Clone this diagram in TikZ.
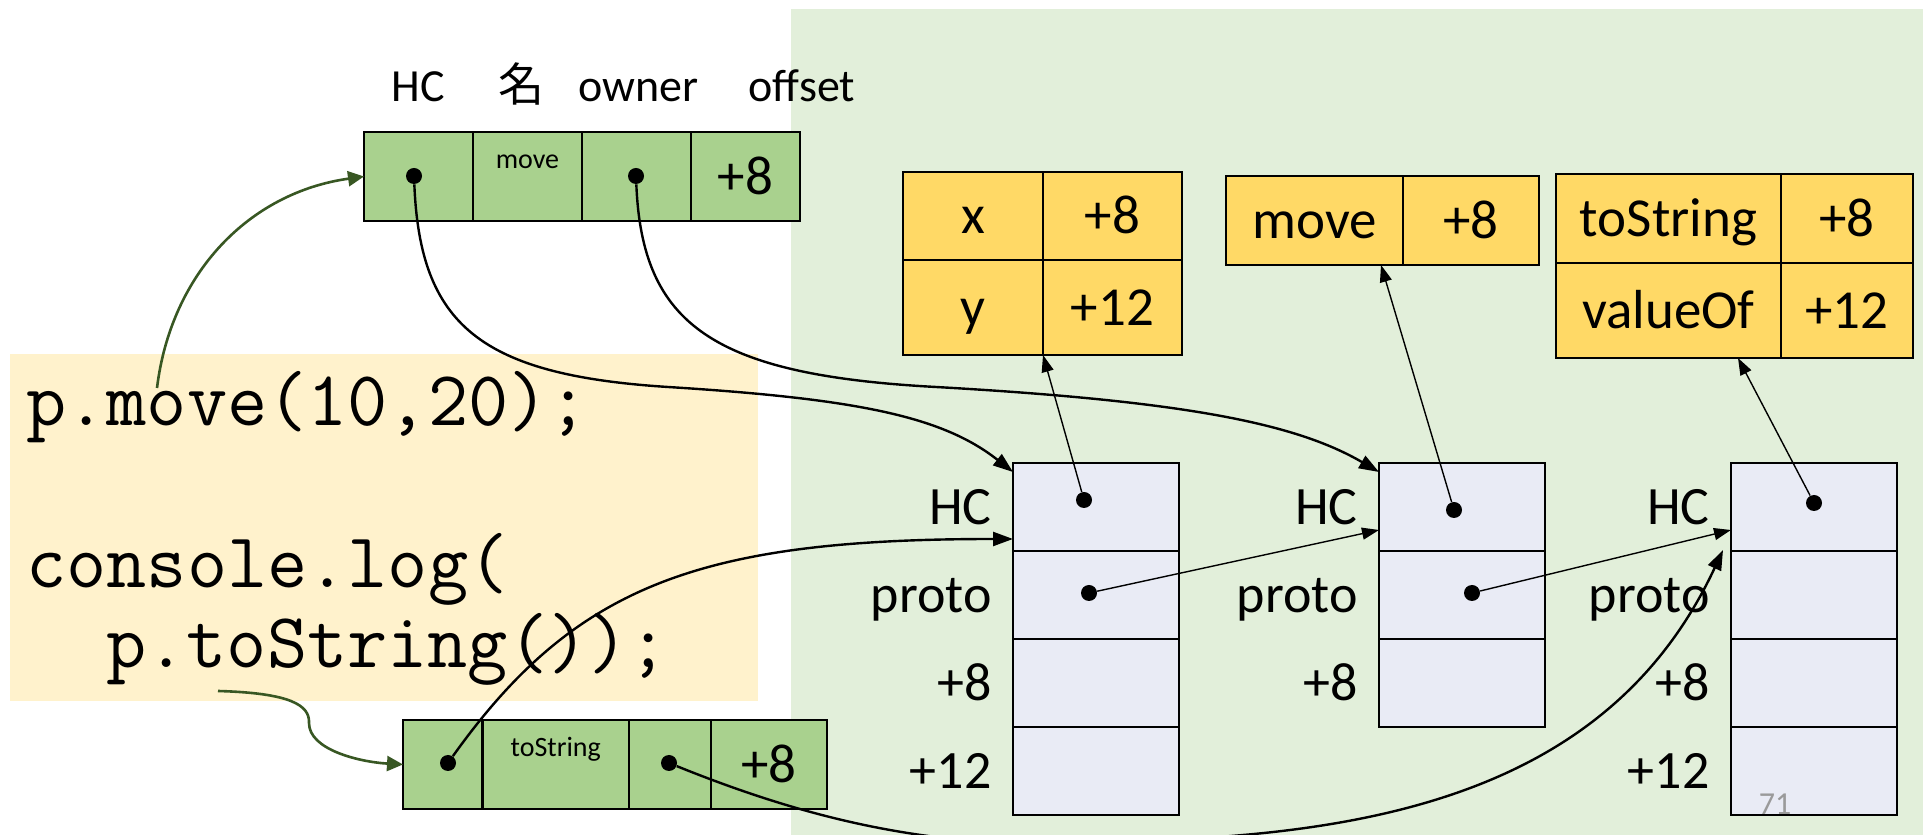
\documentclass[tikz,border=0pt]{standalone}
\usepackage{fontspec}
\setmainfont{Carlito}
\newfontfamily\cjkfont{Noto Sans CJK JP}
\usepackage{xcolor}
\usetikzlibrary{positioning, calc, arrows.meta}

\definecolor{heapbg}{HTML}{E2EFDA}
\definecolor{codebg}{HTML}{FFF2CC}
\definecolor{icgreen}{HTML}{A9D18E}
\definecolor{mapgold}{HTML}{FFD966}
\definecolor{objfill}{HTML}{E9EBF5}
\definecolor{callgreen}{HTML}{385723}
\definecolor{pagegray}{HTML}{9A9A9A}

\tikzset{
  cell/.style={draw, line width=1.4pt, inner sep=0pt, outer sep=0pt,
    minimum height=44.5pt, text height=17.6pt, text depth=0pt,
    font=\fontsize{27.5}{32}\selectfont},
  iccell/.style={cell, fill=icgreen},
  mapcell/.style={cell, fill=mapgold},
  objcell/.style={cell, fill=objfill, line width=1.2pt, minimum width=83pt, minimum height=44pt},
  fieldlbl/.style={inner sep=0pt, text height=17.2pt, text depth=0pt, font=\fontsize{27}{31}\selectfont},
  toplbl/.style={anchor=base, inner sep=0pt, font=\fontsize{23}{27}\selectfont},
  keylbl/.style={anchor=base, inner sep=0pt, font=\fontsize{14}{16}\selectfont},
  codeline/.style={anchor=base west, inner sep=0pt, font=\ttfamily\fontsize{39}{46}\selectfont},
  dot/.style={circle, fill=black, inner sep=0pt, minimum size=8pt},
  ptr/.style={line width=1.2pt, -{Triangle[length=10pt, width=7pt]}},
  thinptr/.style={line width=0.7pt, -{Triangle[length=8.5pt, width=6pt]}},
  callptr/.style={color=callgreen, line width=1.3pt, -{Triangle[length=8pt, width=7.5pt]}}
}

\begin{document}
\begin{tikzpicture}[x=0.5pt, y=0.5pt]
  \useasboundingbox (0,0) rectangle (1923,835);
  \clip (0,0) rectangle (1923,835);
  \fill[heapbg] (791,0) rectangle (1923,826);
  \fill[codebg] (10,134) rectangle (758,481);

  \node[codeline] (code1) at (26,409) {p.move(10,20);};
  \node[codeline] (code2) at (26,247) {console.log(};
  \node[codeline] (code3) at (106,167) {p.toString());};

  \node[iccell, minimum width=54.5pt, anchor=north west] (ichc) at (364,703) {};
  \node[iccell, minimum width=54.5pt, right=0pt of ichc] (icname) {};
  \node[iccell, minimum width=54.5pt, right=0pt of icname] (icowner) {};
  \node[iccell, minimum width=54.5pt, right=0pt of icowner] (icoff) {+8};
  \node[keylbl] (icnamelbl) at ($(icname.north)+(0,-37)$) {move};
  \node[toplbl] (lblhc) at ($(ichc.north)+(0,30)$) {HC};
  \node[toplbl, font=\cjkfont\fontsize{23}{27}\selectfont] (lblname) at ($(icname.north)+(-6,30)$) {名};
  \node[toplbl] (lblowner) at ($(icowner.north)+(2,30)$) {owner};
  \node[toplbl] (lbloff) at ($(icoff.north east)+(2,30)$) {offset};

  \node[iccell, minimum width=39.75pt, anchor=north west] (tshc) at (403,115) {};
  \node[iccell, minimum width=73.25pt, right=0pt of tshc] (tsname) {};
  \node[iccell, minimum width=41pt, right=0pt of tsname] (tsowner) {};
  \node[iccell, minimum width=58pt, right=0pt of tsowner] (tsoff) {+8};
  \node[keylbl] (tsnamelbl) at ($(tsname.north)+(0,-37)$) {toString};

  \node[mapcell, minimum width=70pt, minimum height=44pt, anchor=north west] (mx) at (903,663) {x};
  \node[mapcell, minimum width=69.5pt, minimum height=44pt, right=0pt of mx] (mx8) {+8};
  \node[mapcell, minimum width=70pt, minimum height=47.5pt, below=0pt of mx] (my) {y};
  \node[mapcell, minimum width=69.5pt, minimum height=47.5pt, right=0pt of my] (my12) {+12};

  \node[mapcell, minimum width=88.5pt, anchor=north west] (mmove) at (1226,659) {move};
  \node[mapcell, minimum width=68pt, right=0pt of mmove] (mmove8) {+8};

  \node[mapcell, minimum width=112.5pt, anchor=north west] (mts) at (1556,661) {toString};
  \node[mapcell, minimum width=66pt, right=0pt of mts] (mts8) {+8};
  \node[mapcell, minimum width=112.5pt, minimum height=47.5pt, below=0pt of mts] (mvo) {valueOf};
  \node[mapcell, minimum width=66pt, minimum height=47.5pt, right=0pt of mvo] (mvo12) {+12};

  \node[objcell, anchor=north west] (phc) at (1013,372) {};
  \node[objcell, below=0pt of phc] (pproto) {};
  \node[objcell, below=0pt of pproto] (px) {};
  \node[objcell, below=0pt of px] (py) {};
  \node[fieldlbl, left=10.5pt of phc] (phclbl) {HC};
  \node[fieldlbl, left=10.5pt of pproto] (pprotolbl) {proto};
  \node[fieldlbl, left=10.5pt of px] (pxlbl) {+8};
  \node[fieldlbl, left=10.5pt of py] (pylbl) {+12};

  \node[objcell, anchor=north west] (qhc) at (1379,372) {};
  \node[objcell, below=0pt of qhc] (qproto) {};
  \node[objcell, below=0pt of qproto] (qmove) {};
  \node[fieldlbl, left=10.5pt of qhc] (qhclbl) {HC};
  \node[fieldlbl, left=10.5pt of qproto] (qprotolbl) {proto};
  \node[fieldlbl, left=10.5pt of qmove] (qmovelbl) {+8};

  \node[objcell, anchor=north west] (ohc) at (1731,372) {};
  \node[objcell, below=0pt of ohc] (oproto) {};
  \node[objcell, below=0pt of oproto] (ots) {};
  \node[objcell, below=0pt of ots] (ovo) {};
  \node[fieldlbl, left=10.5pt of ohc] (ohclbl) {HC};
  \node[fieldlbl, left=10.5pt of oproto] (oprotolbl) {proto};
  \node[fieldlbl, left=10.5pt of ots] (otslbl) {+8};
  \node[fieldlbl, left=10.5pt of ovo] (ovolbl) {+12};

  \node[dot] (icdot1) at (414,659) {};
  \node[dot] (icdot2) at (636,659) {};
  \node[dot] (tsdot1) at (448,72) {};
  \node[dot] (tsdot2) at (669,72) {};
  \node[dot] (phcdot) at (1084,335) {};
  \node[dot] (pprotodot) at (1089,242) {};
  \node[dot] (qhcdot) at (1454,325) {};
  \node[dot] (qprotodot) at (1472,242) {};
  \node[dot] (ohcdot) at (1814,332) {};

  \coordinate (movecall) at (157,447);
  \coordinate (tscall) at (218,144);

  \draw[callptr] (movecall) to[out=83, in=188] (ichc.west);
  \draw[callptr] (tscall) .. controls (290,142) and (310,130) .. (309,112)
    .. controls (309,85) and (360,73) .. (tshc.west);

  \draw[ptr] (icdot1) .. controls (420,510) and (480,460) .. (668,448)
    .. controls (860,436) and (943,418) .. ($(phc.north west)+(0,-9)$);
  \draw[ptr] (icdot2) .. controls (642,510) and (713,460) .. (936,448)
    .. controls (1183,434) and (1295,412) .. ($(qhc.north west)+(0,-9)$);
  \draw[ptr] (tsdot1) .. controls (575,250) and (700,296) .. ($(phc.west)+(0,-32)$);
  \draw[ptr] (tsdot2) to[out=-22, in=185] (1243,0) to[out=5, in=245] ($(ohc.south west)+(-8,1)$);

  \draw[thinptr] (phcdot) -- (my.south east);
  \draw[thinptr] (qhcdot) -- ($(mmove.south east)+(-22,0)$);
  \draw[thinptr] (ohcdot) -- ($(mvo.south east)+(-43,0)$);
  \draw[thinptr] (pprotodot) -- ($(qhc.west)+(0,-23)$);
  \draw[thinptr] (qprotodot) -- ($(ohc.west)+(0,-23)$);

  \node[font=\fontsize{16}{18}\selectfont, text=pagegray, inner sep=0pt] (pagenum) at (1775,31) {71};
\end{tikzpicture}
\end{document}
